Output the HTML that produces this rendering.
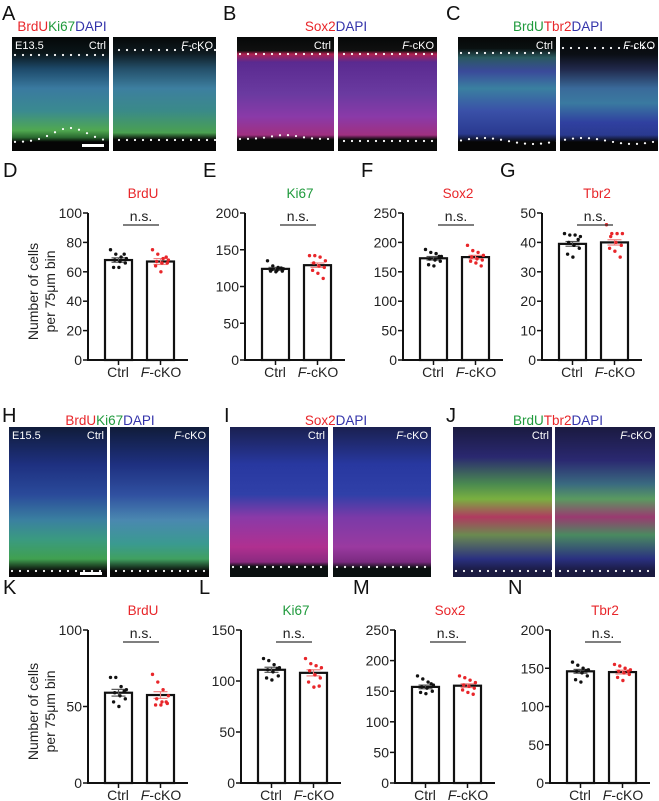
<!DOCTYPE html>
<html><head><meta charset="utf-8">
<style>
body{margin:0;background:#fff;width:659px;height:801px;overflow:hidden;position:relative;font-family:"Liberation Sans",Arial,sans-serif}
.lbl{position:absolute;font-size:20px;color:#111;line-height:1}
.ttl{position:absolute;font-size:13.5px;line-height:1;white-space:nowrap;transform:translateX(-50%)}
.img{position:absolute;overflow:hidden}
.img span{position:absolute;color:#fff;font-size:11px;top:3px}
.r{color:#e8262a}.g{color:#1f9a3c}.b{color:#3333aa}
svg{position:absolute;left:0;top:0}
</style></head><body>
<div class="lbl" style="left:2px;top:4px">A</div>
<div class="lbl" style="left:223px;top:4px">B</div>
<div class="lbl" style="left:446px;top:4px">C</div>
<div class="ttl" style="left:62px;top:20px"><span class="r">BrdU</span><span class="g">Ki67</span><span class="b">DAPI</span></div>
<div class="ttl" style="left:336px;top:20px"><span class="r">Sox2</span><span class="b">DAPI</span></div>
<div class="ttl" style="left:558px;top:20px"><span class="g">BrdU</span><span class="r">Tbr2</span><span class="b">DAPI</span></div>

<div class="img" style="left:12px;top:37px;width:97px;height:114px;background:linear-gradient(#050808 0%,#0a1518 14%,#1d4a6a 28%,#3a7aa0 45%,#3a8a90 65%,#50a850 82%,#2a6a30 88%,#050505 92%)"><span style="left:3px">E13.5</span><span style="right:3px">Ctrl</span></div>
<div class="img" style="left:113px;top:37px;width:103px;height:114px;background:linear-gradient(#050808 0%,#0e1a20 14%,#24506a 28%,#3d7fa0 45%,#3a8a88 65%,#4aa050 84%,#050505 90%)"><span style="right:3px"><i>F</i>-cKO</span></div>
<div class="img" style="left:237px;top:37px;width:97px;height:114px;background:linear-gradient(#060808 0%,#101010 12%,#b02050 15%,#5a2a90 22%,#6a3aa0 50%,#8a3aa8 70%,#a03080 86%,#080808 90%)"><span style="right:3px">Ctrl</span></div>
<div class="img" style="left:338px;top:37px;width:99px;height:114px;background:linear-gradient(#060808 0%,#101010 12%,#b02050 15%,#5a2a90 22%,#6a3aa0 50%,#8a3aa8 70%,#a03080 86%,#080808 90%)"><span style="right:3px"><i>F</i>-cKO</span></div>
<div class="img" style="left:458px;top:37px;width:98px;height:114px;background:linear-gradient(#060808 0%,#0a1010 10%,#2a5a60 18%,#3a4a9a 30%,#3a80a0 45%,#3a50a8 65%,#2a3a90 85%,#060606 92%)"><span style="right:3px">Ctrl</span></div>
<div class="img" style="left:560px;top:37px;width:98px;height:114px;background:linear-gradient(#060808 0%,#0a0e14 15%,#20284a 28%,#3a6a9a 45%,#3a7aa0 58%,#3040a0 75%,#2a3a90 86%,#060606 92%)"><span style="right:3px"><i>F</i>-cKO</span></div>

<div class="lbl" style="left:2px;top:406px">H</div>
<div class="lbl" style="left:224px;top:406px">I</div>
<div class="lbl" style="left:446px;top:406px">J</div>
<div class="ttl" style="left:110px;top:414px"><span class="r">BrdU</span><span class="g">Ki67</span><span class="b">DAPI</span></div>
<div class="ttl" style="left:336px;top:414px"><span class="r">Sox2</span><span class="b">DAPI</span></div>
<div class="ttl" style="left:558px;top:414px"><span class="g">BrdU</span><span class="r">Tbr2</span><span class="b">DAPI</span></div>

<div class="img" style="left:9px;top:427px;width:98px;height:150px;background:linear-gradient(#101c3a 0%,#1e3080 25%,#2a4a9a 45%,#3a80a0 62%,#3a9a80 75%,#40a050 88%,#080808 96%)"><span style="left:3px">E15.5</span><span style="right:3px">Ctrl</span></div>
<div class="img" style="left:110px;top:427px;width:99px;height:150px;background:linear-gradient(#101c3a 0%,#1e3080 25%,#3050a0 45%,#4a88b0 62%,#3a9a90 78%,#40a060 88%,#080808 96%)"><span style="right:3px"><i>F</i>-cKO</span></div>
<div class="img" style="left:230px;top:427px;width:98px;height:150px;background:linear-gradient(#1a2050 0%,#2838a0 25%,#3040a8 45%,#8a3aa8 60%,#b03090 80%,#8a2a80 90%,#0a1010 93%)"><span style="right:3px">Ctrl</span></div>
<div class="img" style="left:333px;top:427px;width:98px;height:150px;background:linear-gradient(#1a2050 0%,#2838a0 25%,#3040a8 45%,#7a3aa8 60%,#9a3aa0 80%,#7a2a80 90%,#0a1010 94%)"><span style="right:3px"><i>F</i>-cKO</span></div>
<div class="img" style="left:453px;top:427px;width:99px;height:150px;background:linear-gradient(#1a1a40 0%,#2a2870 20%,#4a8a50 38%,#7ab040 48%,#b03a60 60%,#6a8a50 72%,#2a3080 88%,#1a1a40 96%)"><span style="right:3px">Ctrl</span></div>
<div class="img" style="left:555px;top:427px;width:100px;height:150px;background:linear-gradient(#1a1a40 0%,#2a2870 22%,#3a6a80 38%,#5a9a60 48%,#9a3a70 60%,#4a8a60 72%,#2a3080 88%,#1a1a40 96%)"><span style="right:3px"><i>F</i>-cKO</span></div>

<svg id="ov" width="659" height="801"></svg>
<svg id="charts" width="659" height="801"></svg>
<script>
// ---- data ----
const panelLetters = ["D","E","F","G","K","L","M","N"];
const markers = ["BrdU","Ki67","Sox2","Tbr2","BrdU","Ki67","Sox2","Tbr2"];
const yMaxes = [100,200,250,50,100,150,250,200];
const yStepVals = [20,50,50,10,50,50,50,50];
const ctrlMeans = [68,124,173,39.5,59,111,157,146];
const ckoMeans = [67,129,175,40,57.5,108,159,145];
const ctrlSem = [1.5,2,3,0.8,2.2,2.5,3,2.5];
const ckoSem = [2,3,3,0.9,2.2,3,3,2.5];
const ctrlPts = [
 [75,72,70,69,68,67,66,63,63,72],
 [135,128,126,124,123,122,121,121,120,125],
 [188,183,181,176,172,170,168,162,160,176],
 [43,42.5,42.5,42,40,39,38,36,35,41],
 [69,69,63,61,59,57,55,53,50,60],
 [122,120,116,113,111,109,105,103,101,112],
 [175,170,165,160,157,155,150,148,146,162],
 [158,154,150,148,146,144,140,135,132,147]];
const ckoPts = [
 [75,72,69,68,67,66,66,64,60,70],
 [142,142,140,135,132,128,126,122,118,111],
 [195,186,183,178,175,172,170,168,165,160],
 [46,43,43,43,42,40,39,38,37,35],
 [71,66,61,57,55,53,52,51,51,53],
 [122,117,115,113,110,106,103,99,94,95],
 [175,172,168,164,160,158,155,152,148,145],
 [155,153,150,148,146,144,142,138,134,146]];
// ---- layout ----
const axX=[88,245,403,542,88,241,395,550];
const axTop=[213,213,213,213,630,630,630,630];
const axBot=[360,360,360,360,783,783,783,783];
const markerColor={BrdU:"#e8262a",Ki67:"#1f9a3c",Sox2:"#e8262a",Tbr2:"#e8262a"};
const NS="http://www.w3.org/2000/svg";
const svg=document.getElementById('charts');
function mk(tag,attrs,parent){const e=document.createElementNS(NS,tag);for(const k in attrs)e.setAttribute(k,attrs[k]);(parent||svg).appendChild(e);return e;}
function txt(x,y,s,attrs,parent){const e=mk('text',Object.assign({x:x,y:y},attrs),parent);e.textContent=s;return e;}
for(let i=0;i<8;i++){
  const g=mk('g',{});
  
  
  const x0=axX[i],yt=axTop[i],yb=axBot[i],ymax=yMaxes[i];
  const Y=v=>yb-(v/ymax)*(yb-yt);
  const pl=txt(x0-(i%4==0?85:42),yt-36,panelLetters[i],{'font-size':20,fill:'#111'},g);
  
  
  const t=txt(x0+55,yt-15,markers[i],{'font-size':13.5,fill:markerColor[markers[i]],'text-anchor':'middle'},g);
  
  
  const ax=mk('line',{x1:x0,y1:yt,x2:x0,y2:yb,stroke:'#111','stroke-width':2},g);
  
  
  mk('line',{x1:x0-1,y1:yb,x2:x0+100,y2:yb,stroke:'#111','stroke-width':2},g);
  for(let v=0;v<=ymax+1e-9;v+=yStepVals[i]){
    mk('line',{x1:x0-5,y1:Y(v),x2:x0,y2:Y(v),stroke:'#111','stroke-width':1.5},g);
    const tl=txt(x0-6,Y(v)+5,String(v),{'font-size':14,fill:'#222','text-anchor':'end'},g);
    
    
  }
  const groups=[{m:ctrlMeans[i],s:ctrlSem[i],p:ctrlPts[i],bx:x0+17,c:'#111',n:'ctrl'},{m:ckoMeans[i],s:ckoSem[i],p:ckoPts[i],bx:x0+59,c:'#e8262a',n:'cko'}];
  groups.forEach(G=>{
    const bar=mk('rect',{x:G.bx,y:Y(G.m),width:27,height:yb-Y(G.m),fill:'#fff',stroke:'#111','stroke-width':2.2},g);
    
    
    const cx=G.bx+13.5;
    const ec=G.c=='#111'?'#555':'#f08080';
    mk('line',{x1:cx,y1:Y(G.m+G.s),x2:cx,y2:Y(G.m-G.s),stroke:ec,'stroke-width':1.2},g);
    mk('line',{x1:cx-7,y1:Y(G.m+G.s),x2:cx+7,y2:Y(G.m+G.s),stroke:ec,'stroke-width':1.2},g);
    mk('line',{x1:cx-7,y1:Y(G.m-G.s),x2:cx+7,y2:Y(G.m-G.s),stroke:ec,'stroke-width':1.2},g);
    G.p.forEach((v,k)=>{
      const d=mk('circle',{cx:cx-8+(k*5.3)%17,cy:Y(v),r:1.7,fill:G.c},g);
      
      
    });
    mk('line',{x1:cx,y1:yb,x2:cx,y2:yb+5,stroke:'#111','stroke-width':1.5},g);
  });
  const c1=txt(x0+30,yb+17,'Ctrl',{'font-size':14,fill:'#222','text-anchor':'middle'},g);
  
  
  const c2=mk('text',{x:x0+73,y:yb+17,'font-size':14,fill:'#222','text-anchor':'middle'},g);
  c2.innerHTML='<tspan font-style="italic">F</tspan>-cKO';
  
  
  const ns=txt(x0+53,yt+8,'n.s.',{'font-size':14,fill:'#222','text-anchor':'middle'},g);
  
  
  mk('line',{x1:x0+35,y1:yt+12,x2:x0+71,y2:yt+12,stroke:'#333','stroke-width':1.3},g);
  if(i%4==0){
    const yc=(yt+yb)/2+5;
    const yt1=txt(0,0,'Number of cells',{'font-size':14,fill:'#222','text-anchor':'middle',transform:'translate(38,'+yc+') rotate(-90)'},g);
    
    
    txt(0,0,'per 75μm bin',{'font-size':14,fill:'#222','text-anchor':'middle',transform:'translate(55,'+yc+') rotate(-90)'},g);
  }
}
// dotted boundaries on images
const ov=document.getElementById('ov');
function dots(x0,x1,yf){for(let x=x0+3;x<x1;x+=8){mk('circle',{cx:x,cy:yf(x),r:1.1,fill:'#fff'},ov);}}
dots(12,216,x=>x<110?142-14*Math.exp(-Math.pow((x-70)/25,2)):140);
dots(12,216,x=>x<110?55:50);
dots(237,437,x=>x<334?139-4*Math.exp(-Math.pow((x-285)/20,2)):141);
dots(237,437,()=>54);
dots(458,658,x=>141-6*Math.sin((x-458)/100*Math.PI*2)*0.5);
dots(458,556,()=>53);dots(560,658,()=>48);
dots(9,209,()=>571);dots(230,431,()=>567);dots(453,655,()=>571);
// scale bars
mk('rect',{x:82,y:144,width:22,height:3,fill:'#fff'},ov);
mk('rect',{x:80,y:572,width:22,height:3,fill:'#fff'},ov);
</script>
</body></html>
